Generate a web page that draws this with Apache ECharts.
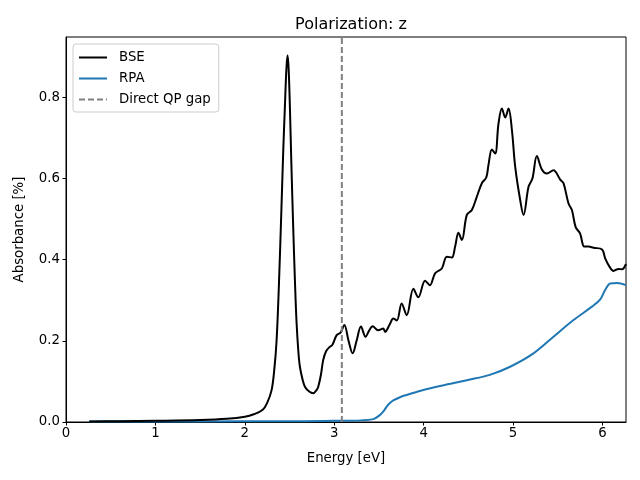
<!DOCTYPE html>
<html>
<head>
<meta charset="utf-8">
<script src="https://cdn.jsdelivr.net/npm/echarts@6/dist/echarts.min.js"></script>
<style>html,body{margin:0;padding:0;background:#fff;}#c{width:640px;height:480px;}</style>
</head>
<body>
<div id="c"></div>
<script>
const bseEnergy = [0.26,0.6,1.0,1.5,1.8,2.0,2.1,2.2,2.25,2.3,2.33,2.355,2.38,2.41,2.43,2.448,2.465,2.478,2.49,2.504,2.52,2.541,2.56,2.579,2.6,2.616,2.645,2.672,2.72,2.765,2.8,2.821,2.85,2.877,2.91,2.95,2.98,3.027,3.07,3.113,3.16,3.206,3.25,3.299,3.35,3.39,3.43,3.49,3.549,3.568,3.62,3.66,3.70,3.754,3.81,3.885,3.94,4.016,4.07,4.128,4.203,4.259,4.315,4.352,4.389,4.427,4.483,4.539,4.595,4.651,4.70,4.725,4.763,4.80,4.837,4.875,4.912,4.949,4.987,5.024,5.08,5.117,5.173,5.217,5.266,5.322,5.378,5.452,5.527,5.564,5.62,5.658,5.70,5.75,5.796,5.844,5.90,5.995,6.03,6.08,6.124,6.18,6.218,6.263];
const bseAbs = [0.001,0.002,0.003,0.005,0.008,0.013,0.019,0.03,0.047,0.079,0.13,0.2,0.33,0.53,0.67,0.776,0.87,0.903,0.87,0.776,0.64,0.48,0.35,0.243,0.17,0.136,0.105,0.087,0.075,0.071,0.078,0.087,0.115,0.153,0.175,0.185,0.19,0.214,0.22,0.239,0.2,0.169,0.2,0.235,0.21,0.225,0.236,0.226,0.23,0.222,0.24,0.255,0.25,0.292,0.263,0.328,0.307,0.348,0.337,0.366,0.378,0.407,0.405,0.432,0.466,0.448,0.51,0.522,0.555,0.588,0.602,0.633,0.671,0.661,0.735,0.772,0.75,0.772,0.719,0.628,0.546,0.51,0.579,0.6,0.655,0.622,0.612,0.62,0.597,0.588,0.538,0.522,0.48,0.464,0.432,0.432,0.429,0.425,0.403,0.382,0.372,0.377,0.376,0.389];
const rpaEnergy = [0.26,1.0,2.0,2.5,3.0,3.3,3.437,3.51,3.55,3.587,3.62,3.66,3.735,3.8,3.922,4.108,4.3,4.483,4.74,4.967,5.228,5.452,5.676,5.882,5.975,6.03,6.087,6.162,6.263];
const rpaAbs = [0.001,0.001,0.002,0.002,0.003,0.004,0.007,0.017,0.026,0.038,0.046,0.053,0.061,0.066,0.074,0.085,0.094,0.103,0.116,0.136,0.169,0.21,0.251,0.284,0.302,0.325,0.341,0.342,0.337];
const gapEnergy = 3.085;
const yTicks = [0,0.2,0.4,0.6,0.8];
const xTicks = [0,1,2,3,4,5,6];
const xMax = 6.263, yMax = 0.948;

const zip = (a,b) => a.map((v,i) => [v,b[i]]);
const font = 'DejaVu Sans';
const chart = echarts.init(document.getElementById('c'));
chart.setOption({
  animation: false,
  backgroundColor: '#fff',
  title: {text: 'Polarization: z', left: 346, top: 12, textAlign: 'center',
    textStyle: {fontFamily: font, fontSize: 16, fontWeight: 'normal', color: '#000'}},
  legend: {orient: 'vertical', left: 73, top: 44, itemWidth: 28, itemHeight: 14, itemGap: 8,
    padding: [7, 8, 6, 5], borderColor: '#cccccc', borderWidth: 1, borderRadius: 3,
    itemStyle: {opacity: 0},
    textStyle: {fontFamily: font, fontSize: 13.3, color: '#000', padding: [0, 0, 0, 7]},
    data: ['BSE','RPA','Direct QP gap']},
  grid: {left: 66, right: 14, top: 37, bottom: 58, show: true, borderColor: '#000', borderWidth: 1},
  xAxis: {type: 'value', min: 0, max: xMax, name: 'Energy [eV]', nameLocation: 'middle', nameGap: 30,
    nameTextStyle: {fontFamily: font, fontSize: 13.3, color: '#000'},
    axisLine: {show: true, onZero: false, lineStyle: {color: '#000', width: 1}},
    axisTick: {show: true, customValues: xTicks, length: 3.5, lineStyle: {color: '#000'}},
    axisLabel: {customValues: xTicks, fontFamily: font, fontSize: 13.3, color: '#000', margin: 5},
    splitLine: {show: false}},
  yAxis: {type: 'value', min: 0, max: yMax, name: 'Absorbance [%]', nameLocation: 'middle', nameGap: 40,
    nameTextStyle: {fontFamily: font, fontSize: 13.3, color: '#000'},
    axisLine: {show: true, onZero: false, lineStyle: {color: '#000', width: 1}},
    axisTick: {show: true, customValues: yTicks, length: 3.5, lineStyle: {color: '#000'}},
    axisLabel: {customValues: yTicks, fontFamily: font, fontSize: 13.3, color: '#000', margin: 6,
      formatter: v => v.toFixed(1)},
    splitLine: {show: false}},
  series: [
    {name: 'BSE', type: 'line', data: zip(bseEnergy, bseAbs), showSymbol: false, symbol: 'none', smooth: 0.35,
      z: 4, lineStyle: {color: '#000', width: 2}, itemStyle: {color: '#000'}},
    {name: 'RPA', type: 'line', data: zip(rpaEnergy, rpaAbs), showSymbol: false, symbol: 'none', smooth: 0.35,
      z: 3, lineStyle: {color: '#1f77b4', width: 2}, itemStyle: {color: '#1f77b4'}},
    {name: 'Direct QP gap', type: 'line', data: [[gapEnergy, 0], [gapEnergy, yMax]], showSymbol: false, symbol: 'none',
      z: 5, lineStyle: {color: '#808080', width: 2, type: [6, 3]}, itemStyle: {color: '#808080'}}
  ]
});
</script>
</body>
</html>
